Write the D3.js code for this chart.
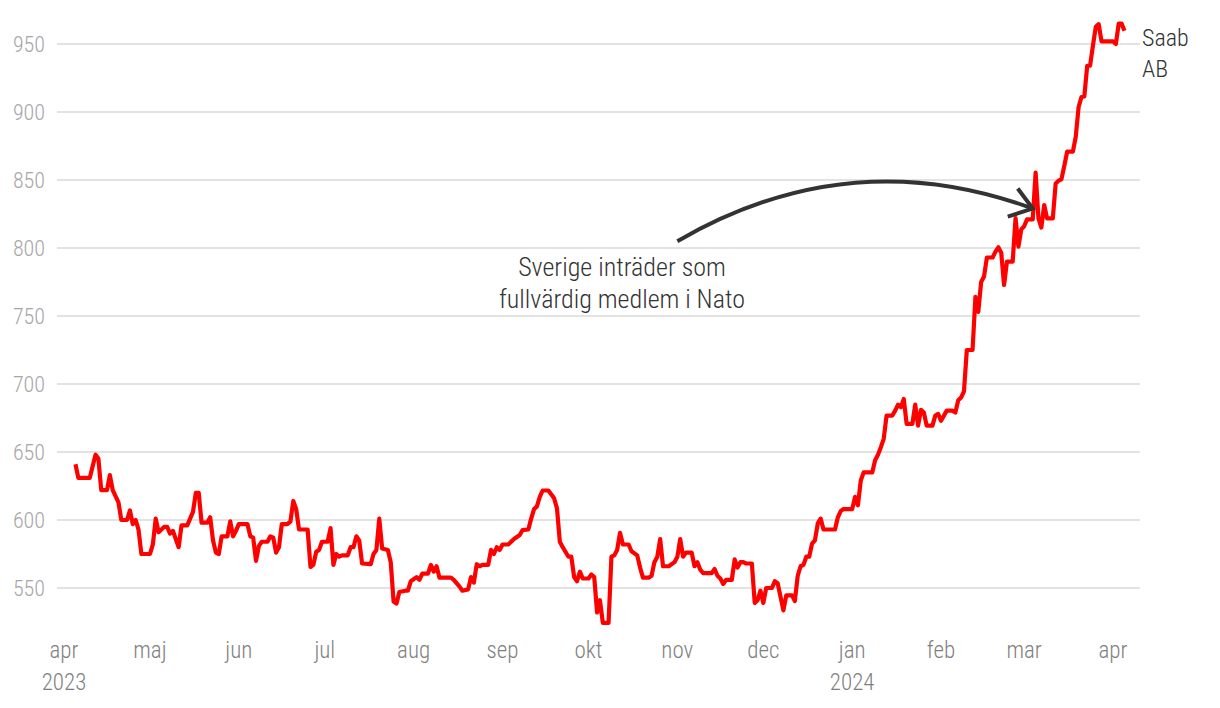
<!DOCTYPE html>
<html>
<head>
<meta charset="utf-8">
<script src="https://cdn.jsdelivr.net/npm/d3@7"></script>
<style>
    body { margin: 0; background: #fff; }
    text { font-family: "Roboto Condensed", "Liberation Sans Narrow", "DejaVu Sans Condensed", Roboto, sans-serif; font-weight: 300; }
</style>
</head>
<body>
<div id="chart"></div>
<script>

// Saab AB share price (SEK)
let dates = [
    "2023-04-05","2023-04-06","2023-04-10","2023-04-12","2023-04-13","2023-04-14","2023-04-16","2023-04-17","2023-04-18","2023-04-20",
    "2023-04-21","2023-04-23","2023-04-24","2023-04-25","2023-04-26","2023-04-27","2023-04-28","2023-05-01","2023-05-02","2023-05-03",
    "2023-05-04","2023-05-06","2023-05-07","2023-05-08","2023-05-09","2023-05-11","2023-05-12","2023-05-14","2023-05-16","2023-05-17",
    "2023-05-18","2023-05-19","2023-05-21","2023-05-22","2023-05-23","2023-05-24","2023-05-25","2023-05-26","2023-05-28","2023-05-29",
    "2023-05-30","2023-05-31","2023-06-01","2023-06-04","2023-06-05","2023-06-06","2023-06-07","2023-06-08","2023-06-09","2023-06-11",
    "2023-06-12","2023-06-13","2023-06-14","2023-06-15","2023-06-16","2023-06-18","2023-06-19","2023-06-20","2023-06-21","2023-06-22",
    "2023-06-25","2023-06-26","2023-06-27","2023-06-28","2023-06-29","2023-06-30","2023-07-02","2023-07-03","2023-07-04","2023-07-05",
    "2023-07-06","2023-07-07","2023-07-09","2023-07-10","2023-07-11","2023-07-12","2023-07-13","2023-07-14","2023-07-17","2023-07-18",
    "2023-07-19","2023-07-20","2023-07-21","2023-07-23","2023-07-24","2023-07-25","2023-07-26","2023-07-27","2023-07-29","2023-07-30",
    "2023-07-31","2023-08-02","2023-08-03","2023-08-04","2023-08-06","2023-08-07","2023-08-08","2023-08-09","2023-08-10","2023-08-14",
    "2023-08-15","2023-08-17","2023-08-18","2023-08-20","2023-08-21","2023-08-22","2023-08-23","2023-08-24","2023-08-25","2023-08-27",
    "2023-08-28","2023-08-29","2023-08-30","2023-08-31","2023-09-01","2023-09-03","2023-09-05","2023-09-07","2023-09-08","2023-09-10",
    "2023-09-11","2023-09-12","2023-09-13","2023-09-14","2023-09-15","2023-09-17","2023-09-19","2023-09-20","2023-09-21","2023-09-22",
    "2023-09-24","2023-09-25","2023-09-26","2023-09-27","2023-09-28","2023-09-29","2023-10-01","2023-10-02","2023-10-03","2023-10-04",
    "2023-10-05","2023-10-06","2023-10-08","2023-10-09","2023-10-10","2023-10-11","2023-10-12","2023-10-13","2023-10-15","2023-10-16",
    "2023-10-18","2023-10-19","2023-10-20","2023-10-22","2023-10-23","2023-10-24","2023-10-25","2023-10-26","2023-10-27","2023-10-29",
    "2023-10-31","2023-11-01","2023-11-02","2023-11-03","2023-11-04","2023-11-06","2023-11-07","2023-11-08","2023-11-09","2023-11-10",
    "2023-11-13","2023-11-14","2023-11-15","2023-11-16","2023-11-17","2023-11-18","2023-11-20","2023-11-21","2023-11-22","2023-11-23",
    "2023-11-24","2023-11-25","2023-11-27","2023-11-28","2023-11-29","2023-11-30","2023-12-01","2023-12-02","2023-12-04","2023-12-05",
    "2023-12-06","2023-12-08","2023-12-09","2023-12-11","2023-12-12","2023-12-13","2023-12-14","2023-12-15","2023-12-16","2023-12-17",
    "2023-12-18","2023-12-19","2023-12-20","2023-12-21","2023-12-22","2023-12-26","2023-12-27","2023-12-28","2023-12-29","2024-01-01",
    "2024-01-02","2024-01-03","2024-01-04","2024-01-05","2024-01-08","2024-01-09","2024-01-10","2024-01-11","2024-01-12","2024-01-13",
    "2024-01-15","2024-01-16","2024-01-17","2024-01-18","2024-01-19","2024-01-20","2024-01-22","2024-01-23","2024-01-24","2024-01-25",
    "2024-01-26","2024-01-27","2024-01-29","2024-01-30","2024-01-31","2024-02-01","2024-02-03","2024-02-05","2024-02-06","2024-02-07",
    "2024-02-08","2024-02-09","2024-02-10","2024-02-12","2024-02-13","2024-02-14","2024-02-15","2024-02-16","2024-02-17","2024-02-19",
    "2024-02-20","2024-02-21","2024-02-22","2024-02-23","2024-02-24","2024-02-26","2024-02-27","2024-02-28","2024-02-29","2024-03-01",
    "2024-03-02","2024-03-04","2024-03-05","2024-03-06","2024-03-07","2024-03-08","2024-03-09","2024-03-11","2024-03-12","2024-03-13",
    "2024-03-14","2024-03-15","2024-03-16","2024-03-18","2024-03-19","2024-03-20","2024-03-21","2024-03-22","2024-03-23","2024-03-24",
    "2024-03-25","2024-03-26","2024-03-27","2024-03-28","2024-04-01","2024-04-02","2024-04-03","2024-04-04","2024-04-05"
];

let prices = [
    641, 631, 631, 648, 645, 622, 622, 633, 622, 613,
    600, 600, 607, 597, 600, 593, 575, 575, 582, 601,
    591, 595, 595, 590, 592, 580, 596, 596, 606, 620,
    620, 598, 598, 602, 585, 576, 575, 588, 588, 599,
    588, 592, 597, 597, 588, 587, 570, 581, 584, 584,
    588, 587, 576, 580, 597, 597, 599, 614, 608, 593,
    593, 565.5, 567, 576.6, 578, 584, 584, 594, 567, 575,
    573, 574, 574, 580, 580, 588, 585, 568, 567.5, 575,
    578, 601, 579, 578, 569, 540, 538.5, 547, 548, 548,
    555, 558, 556, 560.6, 560.6, 567, 562, 566, 557.6, 557.6,
    556, 551, 548, 549, 558, 554, 567.5, 566, 567, 567,
    578, 575, 580, 578, 582, 582, 586, 589, 592.6, 593,
    601, 608, 610, 617, 621.7, 621.7, 616, 608.6, 584, 580,
    573, 573, 558, 555, 562, 557, 557, 560, 558, 532,
    541, 524.4, 524.4, 573, 574, 578, 590.6, 582, 582, 577,
    574, 565, 557.6, 557.6, 559, 569, 573, 586, 566, 566,
    569, 573, 586, 573, 576, 576, 566, 569, 563.5, 561,
    561, 564, 559, 557, 553, 556, 556, 571, 565, 569,
    569, 568, 568, 539, 541, 548, 539, 550, 550, 555,
    553.5, 533.5, 544.6, 544.6, 540.4, 559, 566, 567, 573, 573,
    582.6, 585, 597.5, 601, 593, 593, 602, 606.6, 608, 608,
    617, 610.8, 629, 635, 635, 644, 648, 653.5, 659.7, 676.8,
    676.8, 680.4, 684.8, 683, 689, 670.7, 670.7, 684.8, 669.4, 681,
    679, 669.4, 669.4, 676.8, 678, 673, 680.4, 680.4, 679, 688,
    690, 694.6, 725, 725, 764, 753, 775, 779, 793, 793,
    797.3, 800.5, 796.6, 772.8, 790, 790, 822, 801, 813.7, 816,
    821, 821, 855.4, 821.8, 815, 831.6, 821.8, 821.8, 847.5, 849.5,
    850.5, 860.3, 870.8, 870.8, 881.7, 903.7, 911, 911.5, 934, 934,
    948.8, 962.7, 964.6, 952, 952, 950, 965, 965, 959.8
];

// axis ticks
let yTicks = [550, 600, 650, 700, 750, 800, 850, 900, 950];
let monthTicks = ["2023-04-01","2023-05-01","2023-06-01","2023-07-01","2023-08-01","2023-09-01","2023-10-01",
    "2023-11-01","2023-12-01","2024-01-01","2024-02-01","2024-03-01","2024-04-01"];
let monthLabels = ["apr","maj","jun","jul","aug","sep","okt","nov","dec","jan","feb","mar","apr"];
let yearLabels = [["2023-04-01", "2023"], ["2024-01-01", "2024"]];

// annotation
let annoText = ["Sverige inträder som", "fullvärdig medlem i Nato"];
let annoFrom = ["2023-11-01", 805];
let annoTo = ["2024-03-04", 829];

let seriesName = ["Saab", "AB"];

let parseDate = d3.timeParse("%Y-%m-%d");

let data = dates.map((d, i) => ({date: parseDate(d), value: prices[i]}));

let width = 1220, height = 708;

let svg = d3.select("#chart").append("svg")
    .attr("width", width)
    .attr("height", height);

let x = d3.scaleTime()
    .domain([parseDate("2023-04-01"), parseDate("2024-04-01")])
    .range([64, 1113]);

let y = d3.scaleLinear()
    .domain([550, 950])
    .range([588, 44]);

// gridlines
svg.append("g")
    .selectAll("line")
    .data(yTicks)
    .enter()
    .append("line")
    .attr("x1", 57)
    .attr("x2", 1140)
    .attr("y1", d => y(d))
    .attr("y2", d => y(d))
    .attr("stroke", "#e3e3e3")
    .attr("stroke-width", 2);

// y labels
svg.append("g")
    .selectAll("text")
    .data(yTicks)
    .enter()
    .append("text")
    .attr("x", 45)
    .attr("y", d => y(d) + 8)
    .attr("text-anchor", "end")
    .attr("font-size", "22px")
    .style("fill", "#a6a6a6")
    .text(d => d);

// x labels
svg.append("g")
    .selectAll("text")
    .data(monthTicks)
    .enter()
    .append("text")
    .attr("x", d => x(parseDate(d)))
    .attr("y", 658)
    .attr("text-anchor", "middle")
    .attr("font-size", "23px")
    .style("fill", "#7f7f7f")
    .text((d, i) => monthLabels[i]);

svg.append("g")
    .selectAll("text")
    .data(yearLabels)
    .enter()
    .append("text")
    .attr("x", d => x(parseDate(d[0])))
    .attr("y", 690)
    .attr("text-anchor", "middle")
    .attr("font-size", "23px")
    .style("fill", "#7f7f7f")
    .text(d => d[1]);

// price line
let line = d3.line()
    .x(d => x(d.date))
    .y(d => y(d.value));

svg.append("path")
    .datum(data)
    .attr("d", line)
    .attr("fill", "none")
    .attr("stroke", "#ff0000")
    .attr("stroke-width", 4.2)
    .attr("stroke-linejoin", "round");

// series label
svg.append("text")
    .attr("x", 1142)
    .attr("y", 46)
    .attr("font-size", "24px")
    .style("fill", "#333")
    .selectAll("tspan")
    .data(seriesName)
    .enter()
    .append("tspan")
    .attr("x", 1142)
    .attr("dy", (d, i) => i === 0 ? 0 : 31)
    .text(d => d);

// annotation arrow
let p0 = [x(parseDate(annoFrom[0])), y(annoFrom[1])];
let p1 = [x(parseDate(annoTo[0])), y(annoTo[1])];
let ctrl = [p0[0] + 172, p0[1] - 100];
let arrowPath = d3.path();
arrowPath.moveTo(p0[0], p0[1]);
arrowPath.quadraticCurveTo(ctrl[0], ctrl[1], p1[0], p1[1]);
svg.append("path")
    .attr("d", arrowPath.toString())
    .attr("fill", "none")
    .attr("stroke", "#333")
    .attr("stroke-width", 4);

let head = d3.path();
head.moveTo(p1[0] - 15, p1[1] - 20);
head.lineTo(p1[0], p1[1]);
head.lineTo(p1[0] - 25, p1[1] + 8);
svg.append("path")
    .attr("d", head.toString())
    .attr("fill", "none")
    .attr("stroke", "#333")
    .attr("stroke-width", 4);

svg.append("text")
    .attr("x", 622)
    .attr("y", 276)
    .attr("text-anchor", "middle")
    .attr("font-size", "26px")
    .style("fill", "#333")
    .selectAll("tspan")
    .data(annoText)
    .enter()
    .append("tspan")
    .attr("x", 622)
    .attr("dy", (d, i) => i === 0 ? 0 : 32)
    .text(d => d);

</script>
</body>
</html>
